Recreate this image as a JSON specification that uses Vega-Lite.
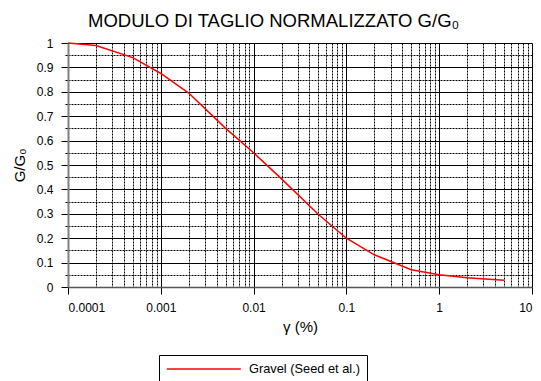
{
  "$schema": "https://vega.github.io/schema/vega-lite/v6.json",
  "width": 464,
  "height": 244,
  "autosize": {"type": "none"},
  "padding": {"left": 68, "top": 43, "right": 9, "bottom": 94},
  "background": "white",
  "config": {"font": "Liberation Sans", "view": {"stroke": null}},
  "title": {"text": "MODULO DI TAGLIO NORMALIZZATO G/G₀", "fontSize": 18.5, "fontWeight": "normal", "anchor": "start", "frame": "group", "dx": 20, "offset": 7, "color": "black", "font": "Liberation Sans"},
  "data": {"values": [
    {"g": 0.0001, "r": 1.0, "s": "Gravel (Seed et al.)"},
    {"g": 0.0002, "r": 0.99, "s": "Gravel (Seed et al.)"},
    {"g": 0.0005, "r": 0.94, "s": "Gravel (Seed et al.)"},
    {"g": 0.001, "r": 0.875, "s": "Gravel (Seed et al.)"},
    {"g": 0.002, "r": 0.795, "s": "Gravel (Seed et al.)"},
    {"g": 0.005, "r": 0.65, "s": "Gravel (Seed et al.)"},
    {"g": 0.01, "r": 0.55, "s": "Gravel (Seed et al.)"},
    {"g": 0.02, "r": 0.443, "s": "Gravel (Seed et al.)"},
    {"g": 0.05, "r": 0.297, "s": "Gravel (Seed et al.)"},
    {"g": 0.1, "r": 0.2, "s": "Gravel (Seed et al.)"},
    {"g": 0.2, "r": 0.132, "s": "Gravel (Seed et al.)"},
    {"g": 0.5, "r": 0.071, "s": "Gravel (Seed et al.)"},
    {"g": 1, "r": 0.05, "s": "Gravel (Seed et al.)"},
    {"g": 2, "r": 0.038, "s": "Gravel (Seed et al.)"},
    {"g": 5, "r": 0.028, "s": "Gravel (Seed et al.)"}
  ]},
  "layer": [
    {
      "mark": {"type": "line", "opacity": 0},
      "encoding": {
        "x": {"field": "g", "type": "quantitative", "scale": {"type": "log", "domain": [0.0001, 10], "nice": false},
          "axis": {"orient": "bottom", "values": [0.0002,0.0003,0.0004,0.0005,0.0006,0.0007,0.0008,0.0009,0.002,0.003,0.004,0.005,0.006,0.007,0.008,0.009,0.02,0.03,0.04,0.05,0.06,0.07,0.08,0.09,0.2,0.3,0.4,0.5,0.6,0.7,0.8,0.9,2,3,4,5,6,7,8,9],
            "grid": true, "gridColor": "black", "gridDash": [2, 1], "gridWidth": 1, "gridOpacity": 1, "labels": false, "ticks": false, "domain": false, "title": null}},
        "y": {"field": "r", "type": "quantitative", "scale": {"domain": [0, 1], "nice": false},
          "axis": {"orient": "left", "values": [0.05,0.15,0.25,0.35,0.45,0.55,0.65,0.75,0.85,0.95],
            "grid": true, "gridColor": "black", "gridDash": [2, 1], "gridWidth": 1, "gridOpacity": 1, "labels": false, "ticks": true, "tickSize": 3, "tickColor": "black", "domain": false, "title": null}}
      }
    },
    {
      "mark": {"type": "line", "strokeWidth": 1.5},
      "encoding": {
        "x": {"field": "g", "type": "quantitative", "scale": {"type": "log", "domain": [0.0001, 10], "nice": false},
          "axis": {"orient": "bottom", "values": [0.0001, 0.001, 0.01, 0.1, 1, 10], "format": "~g",
            "grid": true, "gridColor": "black", "gridWidth": 1, "gridOpacity": 1,
            "domainColor": "#555555", "domainWidth": 1.5, "tickColor": "black", "tickSize": 7,
            "labelFontSize": 12, "labelColor": "black", "labelPadding": 8, "labelFont": "Liberation Sans",
            "title": "γ (%)", "titleFontSize": 15, "titleFontWeight": "normal", "titleColor": "black", "titlePadding": 6, "titleFont": "Liberation Sans"}},
        "y": {"field": "r", "type": "quantitative", "scale": {"domain": [0, 1], "nice": false},
          "axis": {"orient": "left", "values": [0,0.1,0.2,0.3,0.4,0.5,0.6,0.7,0.8,0.9,1], "format": "~g",
            "grid": true, "gridColor": "black", "gridWidth": 1, "gridOpacity": 1,
            "domainColor": "#808080", "domainWidth": 2, "tickColor": "black", "tickSize": 7,
            "labelFontSize": 12, "labelColor": "black", "labelPadding": 8, "labelFont": "Liberation Sans",
            "title": "G/G₀", "titleFontSize": 15, "titleFontWeight": "normal", "titleColor": "black", "titlePadding": 9, "titleFont": "Liberation Sans"}},
        "color": {"field": "s", "type": "nominal", "scale": {"range": ["#ff0000"]},
          "legend": {"orient": "none", "legendX": 91, "legendY": 312, "title": null, "strokeColor": "black", "fillColor": "white", "padding": 7,
            "symbolType": "M-1,0H11", "symbolSize": 152, "symbolStrokeWidth": 1.5, "labelFontSize": 12.8, "labelColor": "black", "labelOffset": 69, "labelFont": "Liberation Sans"}}
      }
    }
  ],
  "resolve": {"axis": {"x": "independent", "y": "independent"}}
}
